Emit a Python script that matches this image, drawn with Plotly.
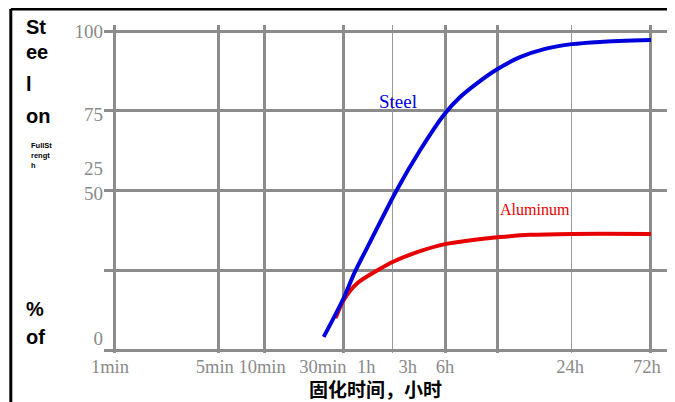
import plotly.graph_objects as go

# ---------------- data ----------------
steel_minutes = [25, 34, 40, 51, 76, 110, 158, 203, 275, 352, 509, 747, 1130, 1738, 3800]
steel_pct = [4.1, 16.3, 24.1, 33.9, 49.8, 62.7, 73.7, 79.3, 84.3, 87.8, 91.8, 94.4, 95.9, 96.6, 97.2]

aluminum_minutes = [30, 34, 42, 59, 72, 105, 161, 247, 374, 593, 1130, 3800]
aluminum_pct = [10, 15.7, 21, 25.4, 27.6, 30.7, 33.2, 34.5, 35.4, 36.1, 36.4, 36.4]

# vertical grid lines (minutes, as drawn) - thick and thin
grid_thick_minutes = [1, 5, 10, 34, 161, 360, 3800]
grid_thin_minutes = [72, 1130]
# x tick labels and where they sit (minutes)
x_tick_labels = ["1min", "5min", "10min", "30min", "1h", "3h", "6h", "24h", "72h"]
x_tick_pos = [0.94, 4.7, 9.7, 24.7, 48, 91, 161, 1100, 3575]

# horizontal grid lines and y tick labels
y_grid = [0, 25, 50, 75, 100]
y_tick_labels = ["0", "25", "50", "75", "100"]
y_tick_pos = [3.8, 57, 49, 74, 100]

x_title = "固化时间，小时"

# ---------------- layout geometry (page pixels) ----------------
OFF = 8                      # default body margin of the html page
W, H = 675 - OFF, 402 - OFF
PL, PR, PT, PB = 104, 669, 25, 353   # plot area in page pixels


def pxx(px):
    return (px - PL) / (PR - PL)


def pxy(py):
    return (PB - py) / (PB - PT)


XR = [-0.0667, 3.7]
YR = [-0.94, 101.9]
GRID = "#8c8c8c"
TICKC = "#8a8a8a"
SERIF = "Liberation Serif, Times New Roman, serif"
SANS = "Liberation Sans, Arial, sans-serif"

fig = go.Figure()
fig.add_trace(go.Scatter(
    x=aluminum_minutes, y=aluminum_pct, mode="lines", name="Aluminum",
    line=dict(color="#e60000", width=4, shape="spline", smoothing=0.8),
    xaxis="x", yaxis="y", showlegend=False, hoverinfo="skip"))
fig.add_trace(go.Scatter(
    x=steel_minutes, y=steel_pct, mode="lines", name="Steel",
    line=dict(color="#0000dd", width=4, shape="spline", smoothing=0.8),
    xaxis="x2", yaxis="y2", showlegend=False, hoverinfo="skip"))

fig.update_layout(
    width=W, height=H,
    margin=dict(l=PL - OFF, r=675 - PR, t=PT - OFF, b=402 - PB, pad=0),
    paper_bgcolor="white", plot_bgcolor="white",
    xaxis=dict(type="log", range=XR, tickvals=grid_thick_minutes,
               showticklabels=False, ticks="", showgrid=True, automargin=False,
               gridcolor=GRID, gridwidth=2.5, zeroline=False, showline=False,
               minor=dict(tickvals=grid_thin_minutes, showgrid=True,
                          gridcolor="#999999", gridwidth=1, ticks="")),
    yaxis=dict(range=YR, tickvals=y_grid, showticklabels=False, ticks="",
               showgrid=True, gridcolor=GRID, gridwidth=2.5, automargin=False,
               zeroline=False, showline=False),
    xaxis2=dict(type="log", range=XR, overlaying="x", anchor="y2",
                tickvals=x_tick_pos, ticktext=x_tick_labels, ticks="",
                tickangle=0, automargin=False,
                showgrid=False, zeroline=False, showline=False,
                tickfont=dict(family=SERIF, size=18.5, color=TICKC)),
    yaxis2=dict(range=YR, overlaying="y", anchor="x2", side="left",
                tickvals=y_tick_pos, ticktext=y_tick_labels, ticks="",
                automargin=False,
                showgrid=False, zeroline=False, showline=False,
                tickfont=dict(family=SERIF, size=19, color=TICKC)),
)

ann = []
# series labels
ann.append(dict(x=pxx(398), y=pxy(101), xref="paper", yref="paper", text="Steel",
                xanchor="center", yanchor="middle", showarrow=False,
                font=dict(family=SERIF, size=19, color="#0000dd")))
ann.append(dict(x=pxx(535), y=pxy(210), xref="paper", yref="paper", text="Aluminum",
                xanchor="center", yanchor="middle", showarrow=False,
                font=dict(family=SERIF, size=16, color="#e60000")))
# x title
ann.append(dict(x=pxx(375), y=pxy(388), xref="paper", yref="paper",
                text="<b>" + x_title + "</b>", showarrow=False,
                xanchor="center", yanchor="middle",
                font=dict(family="Noto Sans CJK SC", size=19, color="black")))
# y title fragments
for txt, cy in [("St", 27), ("ee", 52), ("l", 84), ("on", 116), ("%", 309), ("of", 337)]:
    ann.append(dict(x=pxx(24), y=pxy(cy), xref="paper", yref="paper",
                    text="<b>" + txt + "</b>", showarrow=False, xanchor="left",
                    yanchor="middle", font=dict(family=SANS, size=20, color="black")))
ann.append(dict(x=pxx(29), y=pxy(139), xref="paper", yref="paper",
                text="<b>FullSt<br>rengt<br>h</b>", showarrow=False,
                xanchor="left", yanchor="top", align="left",
                font=dict(family="Liberation Sans Narrow, Arial Narrow, sans-serif",
                          size=7.5, color="black")))
fig.update_layout(annotations=ann)

# frame lines (top and left)
fig.add_shape(type="line", xref="paper", yref="paper", x0=pxx(10.8), x1=pxx(680),
              y0=pxy(9), y1=pxy(9), line=dict(color="black", width=3))
fig.add_shape(type="line", xref="paper", yref="paper", x0=pxx(10.8), x1=pxx(10.8),
              y0=pxy(9), y1=pxy(410), line=dict(color="black", width=3))

fig.write_html("out.html")
